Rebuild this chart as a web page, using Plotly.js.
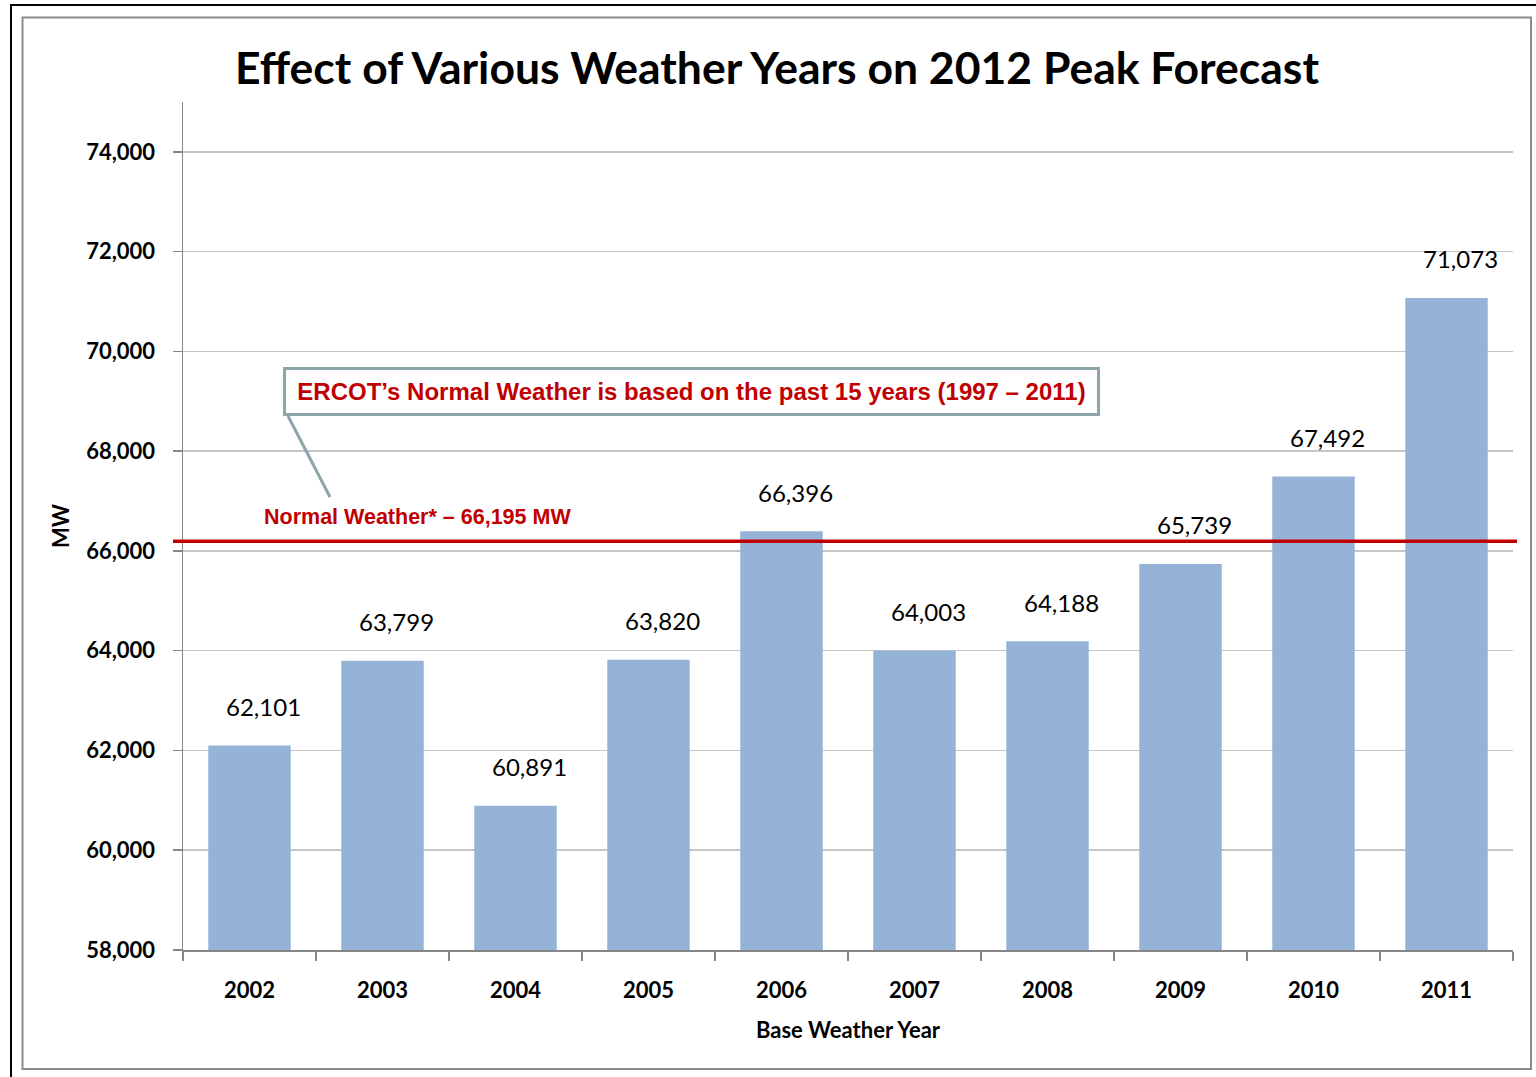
<!DOCTYPE html>
<html>
<head>
<meta charset="utf-8">
<script src="https://cdn.plot.ly/plotly-3.0.1.min.js"></script>
<style>
  html, body { margin: 0; padding: 0; background: #ffffff; }
  #chart { width: 1536px; height: 1077px; }
</style>
</head>
<body>
<div id="chart"></div>
<script>
// ---- Data ----
const years = ['2002', '2003', '2004', '2005', '2006', '2007', '2008', '2009', '2010', '2011'];
const peakMW = [62101, 63799, 60891, 63820, 66396, 64003, 64188, 65739, 67492, 71073];
const normalWeatherMW = 66195;
const chartTitle = 'Effect of Various Weather Years on 2012 Peak Forecast';
const xTitle = 'Base Weather Year';
const yTitle = 'MW';
const normalLabel = 'Normal Weather* – 66,195 MW';
const calloutText = 'ERCOT’s Normal Weather is based on the past 15 years (1997 – 2011)';

// ---- Layout helpers (pixel -> paper) ----
const W = 1536, H = 1077;
const mL = 183, mR = 23, mT = 102, mB = 127;
const plotW = W - mL - mR, plotH = H - mT - mB;
const px = x => (x - mL) / plotW;
const py = y => (H - mB - y) / plotH;

const calibri = 'Lato, "Open Sans", sans-serif';
const arial = '"Liberation Sans", Arial, sans-serif';
const red = '#c00000';
const teal = '#8da6a9';

const trace = {
  type: 'bar',
  x: years,
  y: peakMW,
  marker: { color: '#95b3d7', line: { width: 0 } },
  hoverinfo: 'x+y'
};

const valueLabels = years.map((yr, i) => ({
  x: i, y: peakMW[i], xref: 'x', yref: 'y',
  text: peakMW[i].toLocaleString('en-US'),
  showarrow: false, yanchor: 'middle', xanchor: 'center',
  yshift: 39, xshift: 14,
  font: { family: calibri, size: 24, color: '#000000' }
}));

const layout = {
  width: W, height: H,
  margin: { l: mL, r: mR, t: mT, b: mB, pad: 0 },
  paper_bgcolor: '#ffffff',
  plot_bgcolor: '#ffffff',
  showlegend: false,
  bargap: 0.38,
  title: {
    text: '<b>' + chartTitle + '</b>',
    font: { family: calibri, size: 44.5, color: '#000000' },
    xref: 'container', yref: 'container',
    x: 777 / W, xanchor: 'center',
    y: 1 - 68 / H, yanchor: 'middle'
  },
  xaxis: {
    type: 'category',
    range: [-0.5, years.length - 0.5],
    autorange: false,
    showline: true, linecolor: '#868686', linewidth: 1.5,
    ticks: 'outside', tickson: 'boundaries', ticklen: 9, tickcolor: '#868686', tickwidth: 1.5,
    tickangle: 0,
    tickfont: { family: calibri, size: 22, color: '#000000', weight: 'bold' },
    ticklabelstandoff: 20,
    showgrid: false, zeroline: false,
    title: { text: '<b>' + xTitle + '</b>', font: { family: calibri, size: 22, color: '#000000' }, standoff: 20 },
    automargin: false
  },
  yaxis: {
    range: [58000, 75000],
    autorange: false,
    tick0: 58000, dtick: 2000,
    tickformat: ',d',
    showline: true, linecolor: '#868686', linewidth: 1.5,
    ticks: 'outside', ticklen: 9, tickcolor: '#868686', tickwidth: 1.5,
    tickfont: { family: calibri, size: 22, color: '#000000', weight: 'bold' },
    ticklabelstandoff: 13,
    showgrid: true, gridcolor: '#c6c6c6', gridwidth: 1.5,
    zeroline: false,
    title: { text: '<b>' + yTitle + '</b>', font: { family: calibri, size: 22, color: '#000000' }, standoff: 10 },
    automargin: false
  },
  shapes: [
    // outer black frame
    { type: 'rect', xref: 'paper', yref: 'paper', x0: px(11), x1: px(1560), y0: py(5), y1: py(1100),
      line: { color: '#000000', width: 2 }, fillcolor: 'rgba(0,0,0,0)', layer: 'above' },
    // inner gray frame
    { type: 'rect', xref: 'paper', yref: 'paper', x0: px(22.5), x1: px(1531), y0: py(17.5), y1: py(1069),
      line: { color: '#8c8c8c', width: 2 }, fillcolor: 'rgba(0,0,0,0)', layer: 'above' },
    // normal weather line
    { type: 'line', xref: 'paper', yref: 'y', x0: px(173), x1: px(1517), y0: normalWeatherMW, y1: normalWeatherMW,
      line: { color: red, width: 3.5 }, layer: 'above' },
    // callout connector
    { type: 'line', xref: 'paper', yref: 'paper', x0: px(288), y0: py(416), x1: px(330), y1: py(497),
      line: { color: teal, width: 3 }, layer: 'above' }
  ],
  annotations: valueLabels.concat([
    {
      xref: 'paper', yref: 'y', x: px(262), y: normalWeatherMW,
      xanchor: 'left', yanchor: 'middle', yshift: 24,
      text: '<b>' + normalLabel + '</b>', showarrow: false,
      font: { family: arial, size: 21.5, color: red }
    },
    {
      xref: 'paper', yref: 'paper', x: px(691.5), y: py(391.5),
      xanchor: 'center', yanchor: 'middle',
      text: '<b>' + calloutText + '</b>', showarrow: false,
      width: 805, height: 37, borderpad: 3, borderwidth: 3,
      bordercolor: teal, bgcolor: '#ffffff',
      font: { family: arial, size: 24, color: red }
    }
  ])
};

Plotly.newPlot('chart', [trace], layout, { displayModeBar: false, staticPlot: true });
</script>
</body>
</html>
